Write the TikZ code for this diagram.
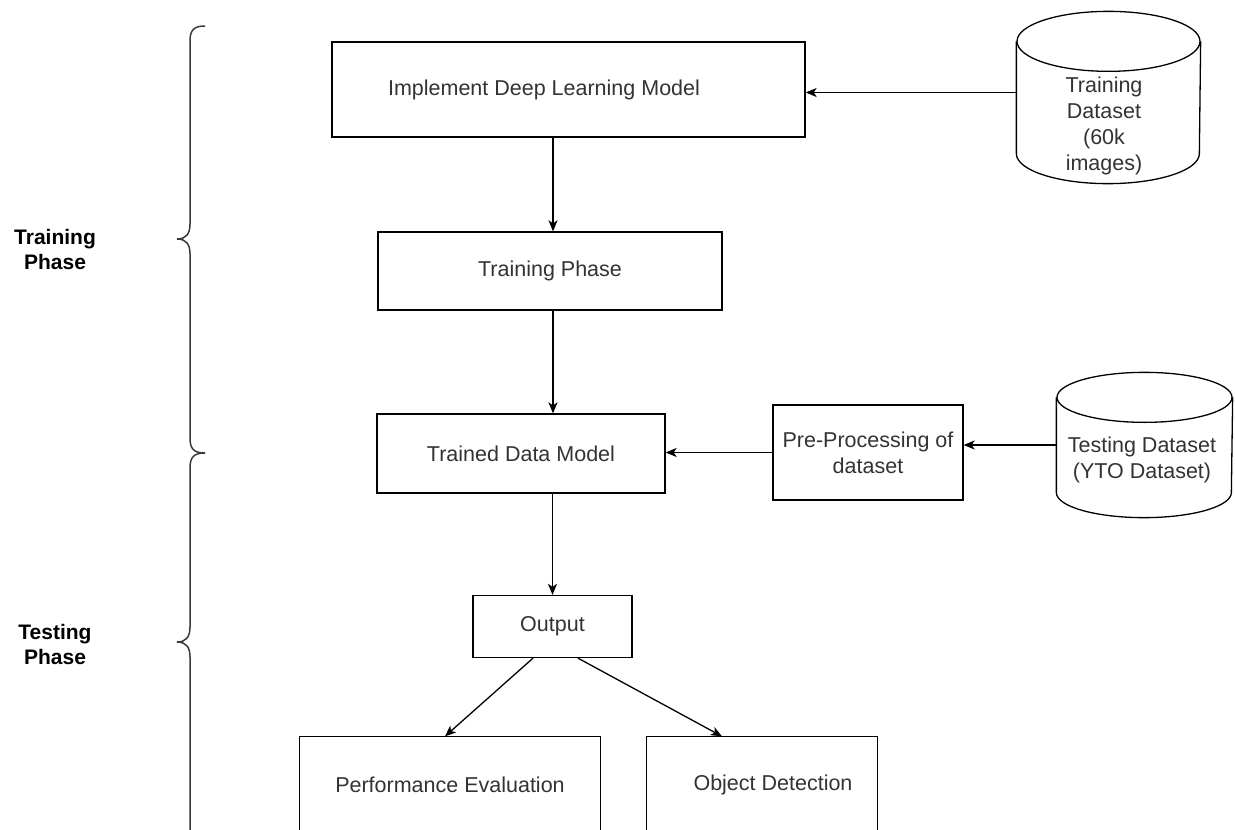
\documentclass[tikz,border=0pt]{standalone}
\usepackage{fontspec}
\setmainfont{Liberation Sans}
\usetikzlibrary{arrows.meta,calc}
\definecolor{txt}{HTML}{333333}
\definecolor{brc}{HTML}{3A3A3A}
\begin{document}
\begin{tikzpicture}[x=1pt,y=-1pt,line width=1.3pt,
  box/.style={draw, rectangle, inner sep=0pt, font=\fontsize{21.5}{26}\selectfont, text=txt, align=center},
  openbox/.style={rectangle, inner sep=0pt, font=\fontsize{21.5}{26}\selectfont, text=txt, align=center},
  holder/.style={rectangle, inner sep=0pt},
  cyltext/.style={font=\fontsize{21.5}{26}\selectfont, text=txt, align=center, inner sep=0pt},
  arr/.style={-{Stealth[length=11pt,width=9pt,inset=3pt]}},
  lbl/.style={font=\fontsize{21}{25}\selectfont\bfseries, align=center, inner sep=0pt},
  bracestyle/.style={draw=brc, line width=1.5pt}]
\fill[white] (0,0) rectangle (1235,830);
\useasboundingbox (0,0) rectangle (1235,830);
\clip (0,0) rectangle (1235,830);

% boxes
\node[box, minimum width=473pt, minimum height=95pt] (box1) at (568.5,89.5) {Implement Deep Learning Model\hspace*{49pt}};
\node[box, minimum width=344pt, minimum height=78pt] (box2) at (550,271) {Training Phase};
\node[box, minimum width=288pt, minimum height=79pt] (box3) at (521,453.5) {Trained Data Model};
\node[box, minimum width=190pt, minimum height=95pt] (pre) at (868,452.5) {Pre-Processing of\\dataset};
\node[box, minimum width=159pt, minimum height=62pt] (out) at (552.5,626.5) {Output};
\node[openbox, minimum width=300pt, minimum height=96pt] (perf) at (450,785) {Performance Evaluation};
\node[openbox, minimum width=230pt, minimum height=96pt] (obj) at (762,785) {\hspace*{22pt}Object Detection};
\draw (perf.south west) -- (perf.north west) -- (perf.north east) -- (perf.south east);
\draw (obj.south west) -- (obj.north west) -- (obj.north east) -- (obj.south east);

% cylinders
\node[holder, minimum width=183pt, minimum height=171pt] (cyl1) at (1108.5,97.5) {};
\draw (cyl1.north) ++(0,30) ellipse [x radius=91.5pt, y radius=30pt];
\draw ([yshift=-30pt]cyl1.north west) -- ([yshift=30pt]cyl1.south west)
  arc[start angle=180, end angle=360, x radius=91.5pt, y radius=30pt]
  -- ([yshift=-30pt]cyl1.north east);
\node[cyltext] (cyl1t) at (1104,126) {Training\\Dataset\\(60k\\images)};

\node[holder, minimum width=175pt, minimum height=144pt] (cyl2) at (1144.5,445) {};
\draw (cyl2.north) ++(0,25) ellipse [x radius=87.5pt, y radius=25pt];
\draw ([yshift=-25pt]cyl2.north west) -- ([yshift=25pt]cyl2.south west)
  arc[start angle=180, end angle=360, x radius=87.5pt, y radius=25pt]
  -- ([yshift=-25pt]cyl2.north east);
\node[cyltext] (cyl2t) at (1142,460) {Testing Dataset\\(YTO Dataset)};

% connectors
\draw[arr] ([yshift=5pt]cyl1.west) -- ([yshift=5pt]cyl1.west -| box1.east);
\draw[arr] ([xshift=-15.5pt]box1.south) -- ([xshift=-15.5pt]box1.south |- box2.north);
\draw[arr] ([xshift=3pt]box2.south) -- ([xshift=3pt]box2.south |- box3.north);
\draw[arr] (box3.south -| out.north) -- (out.north);
\draw[arr] (pre.west) -- (pre.west -| box3.east);
\draw[arr] (cyl2.west) -- (cyl2.west -| pre.east);
\draw[arr] ([xshift=-19.5pt]out.south) -- ([xshift=-5pt]perf.north);
\draw[arr] ([xshift=25.5pt]out.south) -- ([xshift=-40pt]obj.north);

% braces
\draw[bracestyle] (205,26) .. controls (194,26) and (190,30) .. (190,41) -- (190,224)
  .. controls (190,234) and (186,239) .. (177,239)
  .. controls (186,239) and (190,244) .. (190,254) -- (190,438)
  .. controls (190,449) and (194,453) .. (205,453);
\draw[bracestyle] (205,453) .. controls (194,453) and (190,457) .. (190,468) -- (190,627)
  .. controls (190,637) and (186,642) .. (177,642)
  .. controls (186,642) and (190,647) .. (190,657) -- (190,840)
  .. controls (190,851) and (194,855) .. (205,855);

% labels
\node[lbl] (lt) at (55,249.5) {Training\\Phase};
\node[lbl] (ls) at (55,644.5) {Testing\\Phase};
\end{tikzpicture}
\end{document}
